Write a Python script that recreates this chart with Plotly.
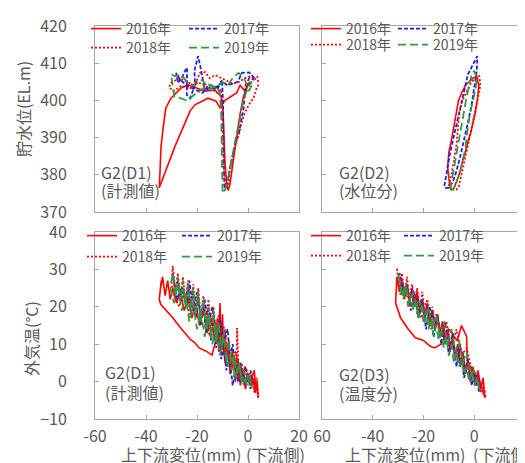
import plotly.graph_objects as go

# ---------------- data ----------------
years = ["2016年", "2017年", "2018年", "2019年"]

# Panel 1: G2(D1) measured, displacement vs reservoir level
wl_d1_2016_x = [1.5, 0, -1.2, -3.1, -4.5, -7, -9, -10, -11, -12.5, -15.7, -20.8, -22.7, -28.6, -34.8, -34.5, -34.1, -33.2, -32.2, -30.2, -26.3, -23.5, -21, -17, -13, -10.5, -9.8, -9.4, -9, -8.4, -7.8, -7.2, -6, -4.6, -3.2, -1.8, -0.4, 1]
wl_d1_2016_y = [405, 404.5, 402.5, 404.1, 402, 401, 400, 399, 398, 399.8, 400.6, 398.8, 397.2, 387.7, 376.5, 381, 387.7, 393, 398, 400.6, 403.3, 404.2, 403.6, 402.5, 402.8, 401, 397, 390, 383, 378, 375.8, 377, 383, 390, 396, 401, 403.5, 405]
wl_d1_2017_x = [2.5, 0.5, -2.4, -4, -6, -8, -10, -12.5, -14.5, -17, -18.8, -19.6, -21, -20.8, -22.7, -24, -23.9, -24.7, -26, -27.5, -28.2, -26.5, -24, -21, -18, -15, -12, -10.2, -9.8, -9.7, -9.6, -9.5, -9.3, -9, -8.3, -7.3, -6, -4.8, -3.7, -2.8, -1.7, -1, 0.5, 2.5]
wl_d1_2017_y = [406, 407.5, 407.4, 405, 404.5, 404, 405, 403.5, 404.1, 403, 409.5, 411.9, 408, 404.1, 400.6, 401.5, 408.8, 407.9, 406, 404.7, 407.4, 405.5, 404, 403, 402, 403.5, 403, 405.5, 400, 393, 386, 380, 377, 376.5, 377.5, 381, 385, 389, 390.8, 394, 398, 404, 406, 405.5]
wl_d1_2018_x = [4, 3.6, 2.5, 1, -1.2, -3.5, -6, -9, -12.9, -15, -16.8, -18.8, -21, -24, -27, -30.2, -31, -29, -26, -23, -20, -17, -14, -12, -10.5, -10.2, -10, -9.8, -9.4, -8.8, -8, -7.6, -7, -6, -5, -3.5, -2.4, -1, 0.5, 2.2, 3.2, 4.2]
wl_d1_2018_y = [405, 406.5, 405.5, 406.5, 406, 405, 404.5, 405.5, 406.8, 406, 407.6, 407.4, 404, 405, 406, 404.7, 403.5, 402.5, 404, 403, 405, 404, 403, 402, 403, 398, 392, 386, 381, 377.5, 376, 377, 382, 385, 388, 391, 394.4, 397, 399, 400.7, 403, 404.3]
wl_d1_2019_x = [1.5, 0.3, -1.5, -3.7, -6, -8, -10, -12.5, -15.6, -18, -20, -22, -23.6, -26, -28.9, -29.5, -30.2, -28.5, -26.2, -24, -21, -18, -15, -12.5, -11, -10.5, -10.3, -10.2, -10, -9.5, -8.5, -7.5, -6.5, -5.5, -4.5, -3.4, -2.4, -1.3, 0, 1.5]
wl_d1_2019_y = [404, 402.5, 406, 407.4, 406, 404, 405, 403.5, 404.3, 403, 402, 401, 399.8, 400.5, 401, 404, 407, 406.5, 407, 405, 404, 405.5, 403, 404, 402, 396, 388, 381, 376, 375, 377, 380, 384, 388, 391, 394, 398, 401, 403.5, 405]

# Panel 2: G2(D2) water-level component
wl_d2_2016_x = [-9, -9.8, -10.5, -10, -8.8, -7.5, -6.7, -6.2, -5, -3.5, -2, -0.5, 1, 1.8, 1.2, 0.5, -0.5, -1.5, -2.5, -3.5, -4.5, -5.5, -6.5, -7.5, -8.3]
wl_d2_2016_y = [376, 378, 382, 386, 390, 395, 398.8, 400, 402, 404, 405, 406, 406.5, 404, 400, 397, 394, 391, 389, 386, 384, 381, 379, 377, 376]
wl_d2_2017_x = [-11.8, -11.2, -10.5, -9.5, -8.5, -7.5, -6.5, -5.5, -4.5, -3.5, -2.5, -1, 0.5, 1.2, 1, 0, -1, -2.5, -4, -5.5, -7, -8.5, -10, -11.5]
wl_d2_2017_y = [377, 379, 382, 386, 389, 392, 395, 398, 401, 404, 407, 409, 411, 411.9, 408, 403, 399, 394, 389, 385, 381, 378, 376.5, 376.5]
wl_d2_2018_x = [-10, -9, -8, -7, -6.5, -6, -5, -4, -2.5, -1, 0.5, 2, 2.4, 1.5, 0.5, -0.5, -1.5, -2.5, -3.5, -4.5, -5.5, -6, -7, -8.5, -10]
wl_d2_2018_y = [377, 380, 384, 388, 392, 396, 399, 401, 403, 405, 406, 406.5, 404, 401, 397, 394, 391, 388, 385, 382, 379, 377, 376, 376, 377]
wl_d2_2019_x = [-9.5, -9, -8, -7, -6, -5, -4, -3, -2, -1, 0, 1, 0.5, -0.5, -1.5, -2.5, -3, -3.5, -4.5, -5.5, -6.5, -7.5, -8.5, -9.5]
wl_d2_2019_y = [376, 378, 382, 386, 390, 394, 398, 401, 404, 407, 408, 406, 403, 400, 397, 393, 390, 387, 384, 381, 379, 377, 376, 376]

# Panel 3: G2(D1) measured, displacement vs air temperature
t_d1_2016_x = [3, 2.5, 1, 0, -1.5, -3, -4, -5.5, -6.5, -8, -9, -10, -11, -12, -13, -14.5, -16, -17.5, -19, -20.5, -22, -23.5, -25, -26.5, -28, -29.5, -30.5, -31.5, -32.5, -33.5, -34.5, -34, -34.8, -34.2, -30, -26, -22.5, -21, -19.2, -16.6, -14.1, -12.7, -12, -11.5, -11, -10.5, -10, -9.5, -9, -8.5, -8, -7, -6, -5, -4, -3, -2, -1, 0, 1, 2, 3, 3.5, 4]
t_d1_2016_y = [-2, 3, 0, 2, -1, 5, 1, 7, 3, 10, 5, 12, 8, 15, 11, 17, 13, 19, 15, 21, 17, 22, 19, 24, 21, 25, 22, 27, 23, 28, 24, 27, 22, 20.6, 17.5, 14, 11.2, 10.5, 9, 8.2, 7.1, 10.8, 17, 8, 21, 9, 18, 7, 14, 5, 10, 2, 8, 0, 5, -1, 3, -2, 2, -1, 1, -3, 0, -4]
t_d1_2017_x = [2, 1, 0, -1, -2, -3, -4, -5, -6, -6.5, -7.5, -8.5, -9.5, -10.5, -11.5, -12.5, -13.5, -14.5, -15.5, -16.5, -17.5, -18.5, -19.5, -20.5, -21.5, -22.5, -23.5, -24.5, -25.5, -26.5, -27.5, -28.5, -29.5, -28, -26, -24, -23, -21.5, -20, -18.5, -17, -15.5, -14, -12.5, -11, -9.5, -8, -7, -6, -5, -4, -3, -2, -1, 0, 1]
t_d1_2017_y = [-1, 3, 0, 4, 1, 5, 0, 3, -1, 2, 6, 3, 10, 6, 14, 9, 17, 11, 20, 13, 21, 15, 23, 17, 24, 19, 26, 21, 25, 23, 27, 24, 29, 22, 25, 20, 27, 19, 24, 17, 22, 15, 20, 13, 17, 10, 14, 6, 10, 2, 6, 0, 3, -1, 2, -2]
t_d1_2018_x = [4, 3.5, 2.5, 1.5, 0.5, -0.5, -1.5, -2.5, -3.5, -4.3, -4.6, -5.5, -6.5, -7.5, -8.5, -9.5, -10.5, -11.5, -12.5, -13.5, -14.5, -15.5, -16.5, -17.5, -18.5, -19.5, -20.5, -21.5, -22.5, -23.5, -24.5, -25.5, -26.5, -27.5, -28.5, -29.5, -30, -29, -27, -25, -23, -21, -19, -17, -15, -13, -11, -9, -7, -5, -3, -1, 1, 3]
t_d1_2018_y = [-4.4, 1, -3, 2, -1, 3, 0, 5, 1, 14.3, 2, 7, 3, 11, 6, 15, 8, 18, 11, 20, 13, 22, 15, 23, 17, 25, 19, 26, 20, 27, 21, 28, 22, 29, 24, 30.9, 26, 23, 20, 24, 18, 21, 16, 19, 12, 16, 9, 12, 5, 8, 2, 4, 0, -3]
t_d1_2019_x = [1.5, 0.5, -0.5, -1.5, -2.5, -3.5, -4.5, -5.5, -6.5, -7.5, -8.5, -9.5, -10.5, -11.5, -12.5, -13.5, -14.5, -15.5, -16.5, -17.5, -18.5, -19.5, -20.5, -21.5, -22.5, -23.5, -24.5, -25.5, -26.5, -27.5, -28.5, -29.5, -30.5, -29, -27.5, -26, -24.5, -23, -21.5, -20, -18.5, -17, -15.5, -14, -12.5, -11, -9.5, -8, -6.5, -5, -3.5, -2, -0.5, 1]
t_d1_2019_y = [-1.7, 2, -1, 3, 0, 5, 1, 7, 3, 11, 5, 14, 8, 16, 10, 19, 12, 20, 14, 22, 16, 24, 18, 25, 19, 26, 20, 27, 21, 28, 23, 29, 25, 21, 26, 19, 23, 16, 21, 14, 19, 12, 17, 10, 15, 7, 12, 4, 8, 1, 5, -1, 2, -1]

# Panel 4: G2(D3) temperature component
t_d3_2016_x = [4, 3.5, 2.5, 1.5, 0.5, -0.5, -1.5, -2.5, -3.5, -4.5, -5.5, -6.5, -7.5, -8.5, -9.5, -10.5, -11.5, -12.5, -13.5, -14.5, -15.5, -16.5, -17.5, -18.5, -19.5, -20.5, -21.5, -22.5, -23.5, -24.5, -25.5, -26.5, -27.5, -28.5, -29.5, -30.5, -31, -29, -26, -23.2, -20, -17.5, -15.7, -13, -10, -8, -6.7, -5, -3, -2.8, -1.5, 0, 1.5, 3, 4.3]
t_d3_2016_y = [-4, 1, -2, 3, -1, 4, 1, 6, 3, 8, 5, 10, 7, 12, 9, 14, 11, 16, 13, 18, 15, 19, 16, 21, 17, 22, 19, 24, 20, 25, 21, 26, 22, 27, 24, 28, 21, 17, 14, 11.7, 11, 9.5, 9, 10, 14, 12, 10.9, 15, 12, 5.5, 4, 1, 2, -2, -4.4]
t_d3_2017_x = [2.5, 1.5, 0.5, -0.5, -1.5, -2.5, -3.5, -4.5, -5.5, -6.5, -7.5, -8.5, -9.5, -10.5, -11.5, -12.5, -13.5, -14.5, -15.5, -16.5, -17.5, -18.5, -19.5, -20.5, -21.5, -22.5, -23.5, -24.5, -25.5, -26.5, -27.5, -28.5, -29.5, -28, -26.5, -25, -23.5, -22, -20.5, -19, -17.5, -16, -14.5, -13, -11.5, -10, -8.5, -7, -5.5, -4, -2.5, -1, 0.5, 2]
t_d3_2017_y = [-2, 2, -1, 3, 0, 5, 2, 7, 4, 9, 6, 11, 8, 13, 10, 15, 12, 17, 14, 19, 15, 20, 17, 22, 18, 23, 20, 25, 21, 26, 23, 27, 29, 24, 26, 19, 24, 17, 22, 14, 20, 12, 18, 10, 16, 7, 13, 4, 10, 1, 6, -1, 2, -3]
t_d3_2018_x = [4.5, 3.5, 2.5, 1.5, 0.5, -0.5, -1.5, -2.5, -3.5, -4.5, -5.5, -6.5, -7.5, -8.5, -9.5, -10.5, -11.5, -12.5, -13.5, -14.5, -15.5, -16.5, -17.5, -18.5, -19.5, -20.5, -21.5, -22.5, -23.5, -24.5, -25.5, -26.5, -27.5, -28.5, -29.5, -30.5, -29, -27, -25, -23, -21, -19, -17, -15, -13, -11, -9, -7, -5, -3, -1, 1, 3]
t_d3_2018_y = [-4, 0, -3, 2, -1, 3, 0, 5, 2, 7, 4, 9, 6, 11, 8, 14, 10, 16, 12, 18, 14, 20, 16, 22, 18, 24, 19, 25, 21, 26, 22, 28, 23, 29, 25, 30.4, 23, 25, 20, 23, 17, 21, 14, 18, 12, 16, 9, 14, 7, 9, 3, 2, -2]
t_d3_2019_x = [2, 1, 0, -1, -2, -3, -4, -5, -6, -7, -8, -9, -10, -11, -12, -13, -14, -15, -16, -17, -18, -19, -20, -21, -22, -23, -24, -25, -26, -27, -28, -29, -30, -28.5, -27, -25.5, -24, -22.5, -21, -19.5, -18, -16.5, -15, -13.5, -12, -10.5, -9, -7.5, -6, -4.5, -3, -1.5, 0, 1.5]
t_d3_2019_y = [-2, 1, -1, 3, 0, 4, 2, 6, 4, 8, 5, 10, 7, 12, 9, 13, 11, 15, 12, 17, 14, 19, 16, 20, 17, 22, 19, 23, 20, 25, 22, 26, 29, 23, 26, 21, 24, 18, 22, 16, 20, 14, 18, 12, 16, 10, 14, 8, 11, 5, 8, 2, 3, -1]

x_ticks = [-60, -40, -20, 0, 20]
x_ticktext_left = ["-60", "-40", "-20", "0", "20"]
x_ticktext_right = ["60", "-40", "-20", "0", "20"]   # minus of "-60" hidden in the original
wl_ticks = [370, 380, 390, 400, 410, 420]
t_ticks = [-10, 0, 10, 20, 30, 40]

# ---------------- styles ----------------
W, H = 525, 463
FONT = "Noto Sans CJK JP, Noto Sans, sans-serif"
GREY = "#595959"
FRAME = "#a6a6a6"
styles = [
    dict(color="#ff0000", width=1.6, dash="solid"),
    dict(color="#1f1fe0", width=1.8, dash="4px,2px"),
    dict(color="#ff0000", width=1.8, dash="2px,2px"),
    dict(color="#2e9a3e", width=1.8, dash="8px,4px"),
]

panels = [
    dict(xa="x", ya="y", data=[(wl_d1_2016_x, wl_d1_2016_y), (wl_d1_2017_x, wl_d1_2017_y),
                               (wl_d1_2018_x, wl_d1_2018_y), (wl_d1_2019_x, wl_d1_2019_y)],
         legs=("legend", "legend2")),
    dict(xa="x2", ya="y2", data=[(wl_d2_2016_x, wl_d2_2016_y), (wl_d2_2017_x, wl_d2_2017_y),
                                 (wl_d2_2018_x, wl_d2_2018_y), (wl_d2_2019_x, wl_d2_2019_y)],
         legs=("legend3", "legend4")),
    dict(xa="x3", ya="y3", data=[(t_d1_2016_x, t_d1_2016_y), (t_d1_2017_x, t_d1_2017_y),
                                 (t_d1_2018_x, t_d1_2018_y), (t_d1_2019_x, t_d1_2019_y)],
         legs=("legend5", "legend6")),
    dict(xa="x4", ya="y4", data=[(t_d3_2016_x, t_d3_2016_y), (t_d3_2017_x, t_d3_2017_y),
                                 (t_d3_2018_x, t_d3_2018_y), (t_d3_2019_x, t_d3_2019_y)],
         legs=("legend7", "legend8")),
]

fig = go.Figure()
for p in panels:
    for i, (xs, ys) in enumerate(p["data"]):
        fig.add_trace(go.Scatter(
            x=xs, y=ys, mode="lines", name=years[i], xaxis=p["xa"], yaxis=p["ya"],
            line=dict(color=styles[i]["color"], width=styles[i]["width"], dash=styles[i]["dash"]),
            legend=p["legs"][0] if i < 2 else p["legs"][1],
        ))

# pixel helpers (paper == whole figure since margins are 0)
def px(x):
    return x / W

def py(y):
    return 1 - y / H

xdom_l = [px(87), px(291)]
xdom_r = [px(314), px(517)]
ydom_t = [py(204), py(18)]
ydom_b = [py(411), py(224)]

axis_common = dict(showline=True, mirror=True, linecolor=FRAME, linewidth=1,
                   ticks="inside", ticklen=4, tickcolor=FRAME, showgrid=False,
                   zeroline=False, automargin=False,
                   tickfont=dict(family=FONT, size=16, color=GREY))

layout = dict(
    width=W, height=H, margin=dict(l=0, r=0, t=0, b=0, autoexpand=False),
    paper_bgcolor="white", plot_bgcolor="white",
    font=dict(family=FONT, color=GREY),
    xaxis=dict(domain=xdom_l, anchor="y", range=[-60, 20], tickvals=x_ticks, showticklabels=False, **axis_common),
    xaxis2=dict(domain=xdom_r, anchor="y2", range=[-60, 20], tickvals=x_ticks, showticklabels=False, **axis_common),
    xaxis3=dict(domain=xdom_l, anchor="y3", range=[-60, 20], tickvals=x_ticks, ticktext=x_ticktext_left,
                ticklabelstandoff=3, **axis_common),
    xaxis4=dict(domain=xdom_r, anchor="y4", range=[-60, 20], tickvals=x_ticks, ticktext=x_ticktext_right,
                ticklabelstandoff=3, **axis_common),
    yaxis=dict(domain=ydom_t, anchor="x", range=[370, 420], tickvals=wl_ticks, ticklabelstandoff=24, **axis_common),
    yaxis2=dict(domain=ydom_t, anchor="x2", range=[370, 420], tickvals=wl_ticks, showticklabels=False, **axis_common),
    yaxis3=dict(domain=ydom_b, anchor="x3", range=[-10, 40], tickvals=t_ticks, ticklabelstandoff=24, **axis_common),
    yaxis4=dict(domain=ydom_b, anchor="x4", range=[-10, 40], tickvals=t_ticks, showticklabels=False, **axis_common),
)

# legends: one per row per panel (x_left_px, y_center_px, entrywidth)
leg_spec = [
    ("legend", 78, 21, 53), ("legend2", 78, 40, 53),
    ("legend3", 298, 21, 42), ("legend4", 298, 37, 42),
    ("legend5", 74, 228, 50), ("legend6", 74, 249, 50),
    ("legend7", 298, 228, 48), ("legend8", 298, 248, 48),
]
for name, lx, ly, ew in leg_spec:
    layout[name] = dict(
        x=px(lx), y=py(ly), xanchor="left", yanchor="middle", orientation="h",
        bgcolor="rgba(0,0,0,0)", borderwidth=0, entrywidth=ew, entrywidthmode="pixels",
        font=dict(family=FONT, size=14, color=GREY), traceorder="normal",
        itemclick=False, itemdoubleclick=False,
    )

fig.update_layout(**layout)

def ann(text, x, y, size=16, xanchor="left", angle=0):
    fig.add_annotation(text=text, x=px(x), y=py(y), xref="paper", yref="paper",
                       xanchor=xanchor, yanchor="middle", showarrow=False, textangle=angle,
                       font=dict(family=FONT, size=size, color=GREY))

# panel labels
ann("G2(D1)", 91, 164)
ann("(計測値)", 91, 182)
ann("G2(D2)", 329, 164)
ann("(水位分)", 329, 182)
ann("G2(D1)", 95, 364)
ann("(計測値)", 95, 384)
ann("G2(D3)", 329, 366)
ann("(温度分)", 329, 385)

# axis titles
ann("貯水位(EL.m)", 15, 101, xanchor="center", angle=-90)
ann("外気温(°C)", 23, 331, xanchor="center", angle=-90)
ann("上下流変位(mm)", 173, 446, xanchor="center")
ann("(下流側)", 267, 446, xanchor="center")
ann("上下流変位(mm)", 397, 446, xanchor="center")
ann("(下流側)", 494, 446, xanchor="center")

fig.write_html("out.html")
